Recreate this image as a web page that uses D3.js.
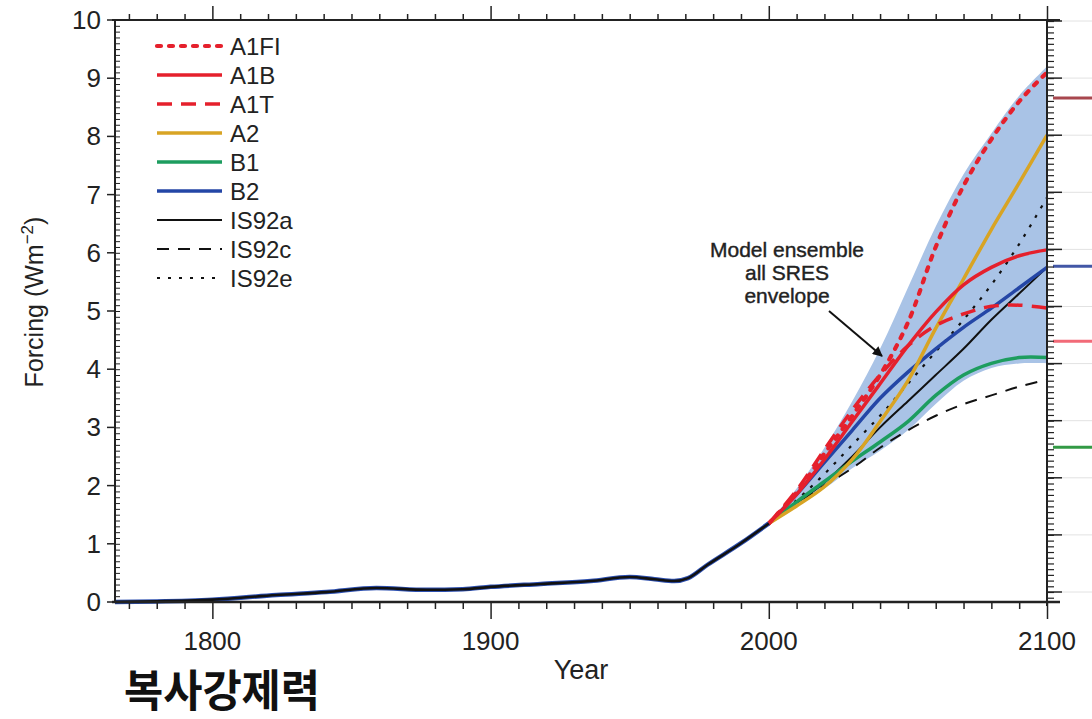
<!DOCTYPE html>
<html>
<head>
<meta charset="utf-8">
<script src="https://cdn.jsdelivr.net/npm/d3@7"></script>
<style>
  body { margin: 0; background: #fff; }
  svg { display: block; font-family: "Liberation Sans", Arial, sans-serif; }
</style>
</head>
<body>
<script>
'use strict';

var width = 1092, height = 719;

// historical forcing (all scenarios overlap)
var histYears  = [1765, 1780, 1800, 1823, 1841, 1859, 1877, 1890, 1900, 1918, 1936, 1950, 1959, 1966, 1971, 1978, 1990, 2000];
var histValues = [0.0, 0.01, 0.04, 0.12, 0.17, 0.24, 0.21, 0.22, 0.26, 0.31, 0.36, 0.43, 0.39, 0.36, 0.41, 0.64, 1.01, 1.35];

// scenarios 2000-2100
var scenYears = [2000, 2010, 2020, 2030, 2040, 2050, 2060, 2070, 2080, 2090, 2100];
var a1fi  = [1.35, 1.88, 2.55, 3.2, 3.9, 4.8, 6.1, 7.15, 7.95, 8.6, 9.1];
var a1b   = [1.35, 1.85, 2.45, 3.1, 3.75, 4.4, 4.98, 5.45, 5.75, 5.95, 6.05];
var a1t   = [1.35, 1.92, 2.62, 3.3, 3.9, 4.4, 4.75, 4.95, 5.08, 5.1, 5.05];
var a2    = [1.35, 1.65, 1.98, 2.45, 3.1, 3.8, 4.7, 5.55, 6.4, 7.2, 8.02];
var b1    = [1.35, 1.72, 2.07, 2.42, 2.75, 3.1, 3.55, 3.9, 4.1, 4.2, 4.2];
var b2    = [1.35, 1.85, 2.4, 2.95, 3.5, 3.95, 4.35, 4.72, 5.05, 5.4, 5.75];
var is92a = [1.35, 1.7, 2.05, 2.5, 3.0, 3.45, 3.9, 4.35, 4.85, 5.3, 5.75];
var is92c = [1.35, 1.7, 2.0, 2.3, 2.65, 2.95, 3.2, 3.4, 3.55, 3.7, 3.82];
var is92e = [1.35, 1.75, 2.2, 2.7, 3.2, 3.75, 4.3, 4.85, 5.45, 6.15, 6.95];

// SRES model ensemble envelope
var envUpper = [1.35, 1.95, 2.65, 3.45, 4.35, 5.4, 6.45, 7.35, 8.05, 8.7, 9.2];
var envLower = [1.35, 1.65, 1.95, 2.3, 2.6, 2.95, 3.4, 3.8, 4.02, 4.1, 4.1];

var seriesNames  = ['A1FI', 'A1B', 'A1T', 'A2', 'B1', 'B2', 'IS92a', 'IS92c', 'IS92e'];
var seriesValues = [a1fi, a1b, a1t, a2, b1, b2, is92a, is92c, is92e];
var seriesColors = ['#e5202c', '#e5202c', '#e5202c', '#d8a424', '#1d9d5f', '#2446a6', '#111', '#111', '#111'];
var seriesDash   = ['4,8', null, '15,9', null, null, null, null, '12,9', '3,8'];
var seriesWidth  = [4.2, 3.5, 3.5, 3.5, 3.5, 3.5, 2, 2, 2.2];

// values of the side markers right of the frame
var sideValues = [8.66, 5.77, 4.48, 2.66];
var sideColors = ['#a8474e', '#4257a6', '#f26a78', '#339a45'];

var yTicks = d3.range(0, 11);
var xTicks = [1800, 1900, 2000, 2100];

var x = d3.scaleLinear().domain([1765, 2100]).range([115, 1047]);
var y = d3.scaleLinear().domain([0, 10]).range([602, 20]);
var yRight = d3.scaleLinear().domain([0, 10]).range([592, 21]);

var svg = d3.select('body').append('svg')
  .attr('width', width)
  .attr('height', height);

// faint lines right of the frame
svg.append('g').selectAll('line')
  .data(yTicks)
  .enter().append('line')
  .attr('x1', 1062).attr('x2', width)
  .attr('y1', function(d) { return yRight(d); })
  .attr('y2', function(d) { return yRight(d); })
  .attr('stroke', '#e2e2e2').attr('stroke-width', 1);

svg.append('g').selectAll('line')
  .data(sideValues)
  .enter().append('line')
  .attr('x1', 1053).attr('x2', width)
  .attr('y1', function(d) { return y(d); })
  .attr('y2', function(d) { return y(d); })
  .attr('stroke', function(d, i) { return sideColors[i]; })
  .attr('stroke-width', 3);

// envelope
var area = d3.area()
  .x(function(d, i) { return x(scenYears[i]); })
  .y0(function(d, i) { return y(envLower[i]); })
  .y1(function(d) { return y(d); })
  .curve(d3.curveCatmullRom);

svg.append('path')
  .datum(envUpper)
  .attr('d', area)
  .attr('fill', '#a9c3e6');

var line = d3.line()
  .x(function(d, i) { return x(scenYears[i]); })
  .y(function(d) { return y(d); })
  .curve(d3.curveCatmullRom);

// draw back to front
var order = [7, 6, 8, 4, 5, 3, 1, 2, 0];
order.forEach(function(k) {
  svg.append('path')
    .datum(seriesValues[k])
    .attr('d', line)
    .attr('fill', 'none')
    .attr('stroke', seriesColors[k])
    .attr('stroke-width', seriesWidth[k])
    .attr('stroke-dasharray', seriesDash[k])
    .attr('stroke-linecap', k === 0 ? 'round' : 'butt');
});

var histLine = d3.line()
  .x(function(d, i) { return x(histYears[i]); })
  .y(function(d) { return y(d); })
  .curve(d3.curveMonotoneX);

svg.append('path').datum(histValues).attr('d', histLine)
  .attr('fill', 'none').attr('stroke', '#2c4fb0').attr('stroke-width', 4.5);
svg.append('path').datum(histValues).attr('d', histLine)
  .attr('fill', 'none').attr('stroke', '#111').attr('stroke-width', 2.6);

// frame / axes
var axisColor = '#222';
var bottomAxis = svg.append('g').attr('transform', 'translate(0,602)');
bottomAxis.call(d3.axisBottom(x).tickValues(d3.range(1770, 2101, 10)).tickSize(7).tickFormat(''));
bottomAxis.call(function(g) {
  g.selectAll('.tick line').attr('stroke', axisColor).attr('stroke-width', 1.5)
    .attr('y2', function(d) { return d % 100 === 0 ? 17 : 7; });
  g.select('.domain').remove();
});
bottomAxis.selectAll('.lbl')
  .data(xTicks).enter().append('text')
  .attr('x', function(d) { return x(d); })
  .attr('y', 48)
  .attr('text-anchor', 'middle')
  .attr('font-size', 26)
  .attr('fill', '#222')
  .text(function(d) { return d; });

var topAxis = svg.append('g').attr('transform', 'translate(0,20)');
topAxis.call(d3.axisTop(x).tickValues(d3.range(1770, 2101, 10)).tickSize(7).tickFormat(''));
topAxis.call(function(g) {
  g.selectAll('.tick line').attr('stroke', axisColor).attr('stroke-width', 1.5)
    .attr('y2', function(d) { return d % 100 === 0 ? -14 : -6; });
  g.select('.domain').remove();
});

var leftAxis = svg.append('g').attr('transform', 'translate(115,0)');
leftAxis.call(d3.axisRight(y).tickValues(d3.range(0, 10.01, 0.1)).tickSize(5).tickFormat(''));
leftAxis.call(function(g) {
  g.selectAll('.tick line').attr('stroke', axisColor).attr('stroke-width', 1);
  g.select('.domain').remove();
});
leftAxis.selectAll('.major')
  .data(yTicks).enter().append('line')
  .attr('x1', -8).attr('x2', 0)
  .attr('y1', function(d) { return y(d); })
  .attr('y2', function(d) { return y(d); })
  .attr('stroke', axisColor).attr('stroke-width', 1.5);
leftAxis.selectAll('.lbl')
  .data(yTicks).enter().append('text')
  .attr('x', -14)
  .attr('y', function(d) { return y(d) + 9; })
  .attr('text-anchor', 'end')
  .attr('font-size', 26)
  .attr('fill', '#222')
  .text(function(d) { return d; });

var rightAxis = svg.append('g').attr('transform', 'translate(1047,0)');
rightAxis.call(d3.axisRight(yRight).tickValues(d3.range(-0.1, 10.01, 0.1)).tickSize(7).tickFormat(''));
rightAxis.call(function(g) {
  g.selectAll('.tick line').attr('stroke', axisColor).attr('stroke-width', 1.2);
  g.select('.domain').remove();
});
rightAxis.selectAll('.major')
  .data(yTicks).enter().append('line')
  .attr('x1', 0).attr('x2', 15)
  .attr('y1', function(d) { return yRight(d); })
  .attr('y2', function(d) { return yRight(d); })
  .attr('stroke', axisColor).attr('stroke-width', 1.5);

// frame lines
svg.append('line').attr('x1', 112).attr('x2', 1060).attr('y1', 602).attr('y2', 602)
  .attr('stroke', axisColor).attr('stroke-width', 2.5);
svg.append('line').attr('x1', 112).attr('x2', 1060).attr('y1', 20).attr('y2', 20)
  .attr('stroke', axisColor).attr('stroke-width', 2);
svg.append('line').attr('x1', 115).attr('x2', 115).attr('y1', 20).attr('y2', 603)
  .attr('stroke', axisColor).attr('stroke-width', 2);
svg.append('line').attr('x1', 1047).attr('x2', 1047).attr('y1', 20).attr('y2', 606)
  .attr('stroke', axisColor).attr('stroke-width', 2);

// axis titles
svg.append('text')
  .attr('transform', 'translate(43,302) rotate(-90)')
  .attr('text-anchor', 'middle')
  .attr('font-size', 25)
  .attr('fill', '#222')
  .call(function(t) {
    t.append('tspan').text('Forcing (Wm');
    t.append('tspan').attr('dy', -10).attr('font-size', 17).text('\u22122');
    t.append('tspan').attr('dy', 10).text(')');
  });

svg.append('text')
  .attr('x', 581).attr('y', 679)
  .attr('text-anchor', 'middle')
  .attr('font-size', 27)
  .attr('fill', '#222')
  .text('Year');

svg.append('text')
  .attr('x', 124).attr('y', 707)
  .attr('font-family', '"Noto Sans CJK KR", sans-serif')
  .attr('font-weight', 700)
  .attr('font-size', 44)
  .attr('textLength', 196)
  .attr('lengthAdjust', 'spacingAndGlyphs')
  .attr('fill', '#111')
  .text('복사강제력');

// legend
var legend = svg.append('g');
seriesNames.forEach(function(name, i) {
  var ly = 46 + i * 29;
  legend.append('line')
    .attr('x1', 157).attr('x2', 222)
    .attr('y1', ly).attr('y2', ly)
    .attr('stroke', seriesColors[i])
    .attr('stroke-width', seriesWidth[i])
    .attr('stroke-dasharray', seriesDash[i])
    .attr('stroke-linecap', i === 0 ? 'round' : 'butt');
  legend.append('text')
    .attr('x', 230).attr('y', ly + 9)
    .attr('font-size', 24)
    .attr('fill', '#222')
    .text(name);
});

// annotation
var note = svg.append('text')
  .attr('text-anchor', 'middle')
  .attr('font-size', 21)
  .attr('fill', '#222')
  .attr('stroke', '#222')
  .attr('stroke-width', 0.4);
['Model ensemble', 'all SRES', 'envelope'].forEach(function(s, i) {
  note.append('tspan').attr('x', 787).attr('y', 257 + i * 23).text(s);
});

svg.append('defs').append('marker')
  .attr('id', 'arrow')
  .attr('viewBox', '0 0 10 10')
  .attr('refX', 9).attr('refY', 5)
  .attr('markerWidth', 6).attr('markerHeight', 5)
  .attr('orient', 'auto')
  .append('path').attr('d', 'M0,0L10,5L0,10z').attr('fill', '#111');

svg.append('line')
  .attr('x1', 829).attr('y1', 311)
  .attr('x2', 882).attr('y2', 356)
  .attr('stroke', '#111').attr('stroke-width', 2)
  .attr('marker-end', 'url(#arrow)');
</script>
</body>
</html>
